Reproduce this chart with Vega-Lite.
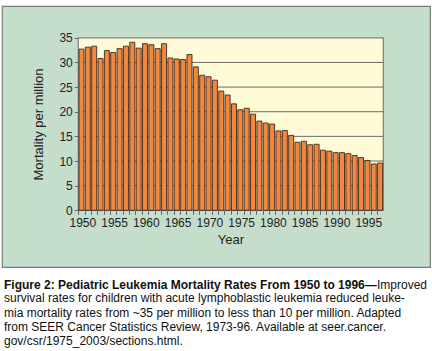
{
  "$schema": "https://vega.github.io/schema/vega-lite/v6.json",
  "width": 428,
  "height": 261,
  "autosize": {"type": "none"},
  "padding": {"left": 2, "top": 6, "right": 2, "bottom": 84},
  "background": "white",
  "config": {
    "font": "Liberation Sans",
    "view": {"fill": "#C5DDCB", "stroke": "#7a7a7a", "strokeWidth": 1.2}
  },
  "title": {
    "text": [
      "survival rates for children with acute lymphoblastic leukemia reduced leuke-",
      "mia mortality rates from ~35 per million to less than 10 per million. Adapted",
      "from SEER Cancer Statistics Review, 1973-96. Available at seer.cancer.",
      "gov/csr/1975_2003/sections.html."
    ],
    "orient": "bottom",
    "anchor": "start",
    "frame": "group",
    "offset": 2.8,
    "dx": 2,
    "font": "Liberation Sans",
    "fontSize": 12,
    "fontWeight": "normal",
    "color": "#111111",
    "lineHeight": 14.1
  },
  "resolve": {"axis": {"x": "independent", "y": "independent"}},
  "data": {
    "values": [
      {"Year": 1950, "Mortality": 32.7},
      {"Year": 1951, "Mortality": 33.1},
      {"Year": 1952, "Mortality": 33.3},
      {"Year": 1953, "Mortality": 30.8},
      {"Year": 1954, "Mortality": 32.4},
      {"Year": 1955, "Mortality": 32.0},
      {"Year": 1956, "Mortality": 32.8},
      {"Year": 1957, "Mortality": 33.3},
      {"Year": 1958, "Mortality": 34.1},
      {"Year": 1959, "Mortality": 32.9},
      {"Year": 1960, "Mortality": 33.8},
      {"Year": 1961, "Mortality": 33.6},
      {"Year": 1962, "Mortality": 32.8},
      {"Year": 1963, "Mortality": 33.8},
      {"Year": 1964, "Mortality": 30.9},
      {"Year": 1965, "Mortality": 30.7},
      {"Year": 1966, "Mortality": 30.6},
      {"Year": 1967, "Mortality": 31.6},
      {"Year": 1968, "Mortality": 29.1},
      {"Year": 1969, "Mortality": 27.4},
      {"Year": 1970, "Mortality": 27.1},
      {"Year": 1971, "Mortality": 26.4},
      {"Year": 1972, "Mortality": 24.2},
      {"Year": 1973, "Mortality": 23.4},
      {"Year": 1974, "Mortality": 21.6},
      {"Year": 1975, "Mortality": 20.4},
      {"Year": 1976, "Mortality": 20.7},
      {"Year": 1977, "Mortality": 19.5},
      {"Year": 1978, "Mortality": 18.1},
      {"Year": 1979, "Mortality": 17.7},
      {"Year": 1980, "Mortality": 17.5},
      {"Year": 1981, "Mortality": 16.1},
      {"Year": 1982, "Mortality": 16.2},
      {"Year": 1983, "Mortality": 15.2},
      {"Year": 1984, "Mortality": 13.8},
      {"Year": 1985, "Mortality": 14.0},
      {"Year": 1986, "Mortality": 13.3},
      {"Year": 1987, "Mortality": 13.4},
      {"Year": 1988, "Mortality": 12.2},
      {"Year": 1989, "Mortality": 12.0},
      {"Year": 1990, "Mortality": 11.7},
      {"Year": 1991, "Mortality": 11.7},
      {"Year": 1992, "Mortality": 11.5},
      {"Year": 1993, "Mortality": 11.1},
      {"Year": 1994, "Mortality": 10.7},
      {"Year": 1995, "Mortality": 10.1},
      {"Year": 1996, "Mortality": 9.4},
      {"Year": 1997, "Mortality": 9.6}
    ]
  },
  "layer": [
    {
      "data": {"values": [{}]},
      "mark": {"type": "rect", "fill": "#FFFBD6", "stroke": "#7f7f7f", "strokeWidth": 1.2},
      "encoding": {
        "x": {"datum": 1949.5, "type": "quantitative", "axis": null},
        "x2": {"datum": 1997.5},
        "y": {"datum": 0, "type": "quantitative", "axis": null},
        "y2": {"datum": 35}
      }
    },
    {
      "data": {"values": [{"v": 5}, {"v": 10}, {"v": 15}, {"v": 20}, {"v": 25}, {"v": 30}]},
      "mark": {"type": "rule", "stroke": "#6b6b6b", "strokeWidth": 1},
      "encoding": {
        "y": {"field": "v", "type": "quantitative", "axis": null},
        "x": {"datum": 1949.5, "type": "quantitative", "axis": null},
        "x2": {"datum": 1997.5}
      }
    },
    {
      "mark": {"type": "bar", "size": 5, "fill": "#F6863A", "stroke": "#332b28", "strokeWidth": 0.9},
      "encoding": {
        "x": {
          "field": "Year",
          "type": "quantitative",
          "scale": {"domain": [1937.492, 2004.849], "nice": false, "zero": false, "padding": 0},
          "axis": {
            "values": [1950, 1951, 1952, 1953, 1954, 1955, 1956, 1957, 1958, 1959, 1960, 1961, 1962, 1963, 1964, 1965, 1966, 1967, 1968, 1969, 1970, 1971, 1972, 1973, 1974, 1975, 1976, 1977, 1978, 1979, 1980, 1981, 1982, 1983, 1984, 1985, 1986, 1987, 1988, 1989, 1990, 1991, 1992, 1993, 1994, 1995, 1996, 1997],
            "labelExpr": "datum.value % 5 === 0 ? '' + datum.value : ''",
            "tickOffset": -3.18,
            "labelOffset": 4,
            "offset": -56.7,
            "domain": false,
            "grid": false,
            "tickSize": 4,
            "tickColor": "#666666",
            "labelFontSize": 12,
            "labelColor": "#222222",
            "labelPadding": 3,
            "labelFlush": false,
            "labelOverlap": false,
            "title": "Year",
            "titleFontSize": 13,
            "titleFontWeight": "normal",
            "titleColor": "#222222",
            "titleX": 228.5,
            "titlePadding": 5
          }
        },
        "y": {
          "field": "Mortality",
          "type": "quantitative",
          "scale": {"domain": [-11.504, 41.452], "nice": false, "zero": false, "padding": 0},
          "axis": {
            "values": [0, 5, 10, 15, 20, 25, 30, 35],
            "offset": -76.3,
            "domain": false,
            "grid": false,
            "tickSize": 4,
            "tickColor": "#666666",
            "labelFontSize": 12,
            "labelColor": "#222222",
            "labelPadding": 2,
            "labelFlush": false,
            "labelOverlap": false,
            "title": "Mortality per million",
            "titleFontSize": 13,
            "titleFontWeight": "normal",
            "titleColor": "#222222",
            "titleY": 118,
            "titlePadding": 13
          }
        }
      }
    },
    {
      "data": {"values": [{}]},
      "mark": {"type": "text", "align": "left", "baseline": "alphabetic", "fontSize": 12, "fontWeight": "bold", "font": "Liberation Sans", "color": "#111111", "text": "Figure 2: Pediatric Leukemia Mortality Rates From 1950 to 1996\u2014"},
      "encoding": {
        "x": {"datum": 1937.807, "type": "quantitative", "axis": null},
        "y": {"datum": -15.9, "type": "quantitative", "axis": null}
      }
    },
    {
      "data": {"values": [{}]},
      "mark": {"type": "text", "align": "right", "baseline": "alphabetic", "fontSize": 12, "font": "Liberation Sans", "color": "#111111", "text": "Improved"},
      "encoding": {
        "x": {"datum": 2004.376, "type": "quantitative", "axis": null},
        "y": {"datum": -15.9, "type": "quantitative", "axis": null}
      }
    }
  ]
}
